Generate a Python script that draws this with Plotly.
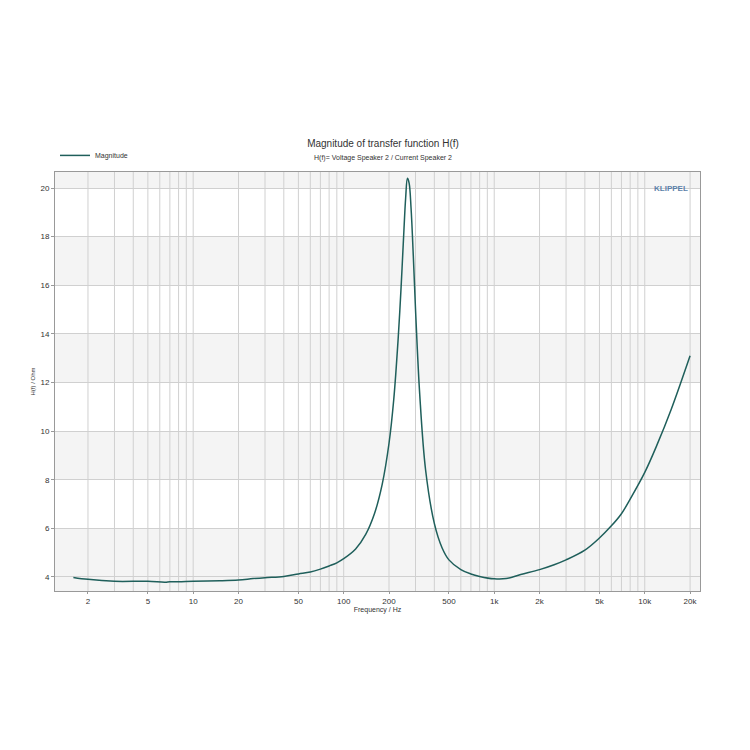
import plotly.graph_objects as go

freq = [1.6, 2, 3, 5, 6.5, 7, 8, 10, 15, 20, 25, 30, 40, 50, 60, 70, 80, 90, 100, 120, 140, 160, 180, 200, 215, 230, 240, 250, 258, 265, 272, 280, 290, 300, 320, 350, 400, 450, 500, 600, 700, 800, 1000, 1200, 1500, 2000, 2500, 3000, 4000, 5000, 6000, 7000, 8000, 10000, 12000, 15000, 20000]
mag = [3.98, 3.9, 3.82, 3.82, 3.78, 3.8, 3.8, 3.82, 3.84, 3.87, 3.93, 3.97, 4.02, 4.12, 4.2, 4.32, 4.45, 4.58, 4.75, 5.15, 5.75, 6.6, 7.8, 9.5, 11.3, 13.8, 15.8, 18.0, 19.6, 20.4, 20.2, 19.2, 17.2, 15.0, 11.5, 8.4, 6.2, 5.2, 4.7, 4.3, 4.12, 4.02, 3.92, 3.93, 4.1, 4.3, 4.5, 4.7, 5.1, 5.6, 6.1, 6.6, 7.2, 8.3, 9.4, 10.9, 13.1]
yticks = [4, 6, 8, 10, 12, 14, 16, 18, 20]
xtickvals = [2, 5, 10, 20, 50, 100, 200, 500, 1000, 2000, 5000, 10000, 20000]
xticktext = ["2", "5", "10", "20", "50", "100", "200", "500", "1k", "2k", "5k", "10k", "20k"]

minor = []
for d in [1, 10, 100, 1000, 10000]:
    for m in range(1, 10):
        v = d * m
        if 1.2 < v < 23000:
            minor.append(v)

fig = go.Figure()
shapes = []
for i, y0 in enumerate(range(4, 21, 2)):
    if i % 2 == 0:
        shapes.append(dict(type="rect", xref="paper", yref="y", x0=0, x1=1, y0=y0, y1=min(y0 + 2, 20.66),
                           fillcolor="#f4f4f4", line_width=0, layer="below"))
shapes.append(dict(type="rect", xref="paper", yref="y", x0=0, x1=1, y0=3.42, y1=4,
                   fillcolor="#f4f4f4", line_width=0, layer="below"))
for v in minor:
    shapes.append(dict(type="line", xref="x", yref="paper", x0=v, x1=v, y0=0, y1=1,
                       line=dict(color="#d0d0d0", width=1), layer="below"))

fig.add_trace(go.Scatter(x=freq, y=mag, mode="lines", name="Magnitude",
                         line=dict(color="#1f5f5b", width=1.5, shape="spline")))
fig.update_layout(
    width=750, height=750, paper_bgcolor="white", plot_bgcolor="white",
    margin=dict(l=47, r=58, t=164, b=167),
    font=dict(family="Liberation Sans, Arial", size=8, color="#333"),
    title=dict(text="Magnitude of transfer function H(f)<br><span style='font-size:7px'>H(f)= Voltage Speaker 2 / Current Speaker 2</span>",
               x=0.5, xanchor="center", y=0.815, font=dict(size=10)),
    showlegend=True,
    legend=dict(x=0, y=1.005, xanchor="left", yanchor="bottom", orientation="h", font=dict(size=7),
                bgcolor="rgba(0,0,0,0)"),
    shapes=shapes,
    xaxis=dict(type="log", range=[0.082, 4.367], tickvals=xtickvals, ticktext=xticktext,
               showgrid=False, zeroline=False, showline=True, linecolor="#999", mirror=True,
               title=dict(text="Frequency / Hz", font=dict(size=7), standoff=2), ticks="outside", ticklen=2,
               tickcolor="#999"),
    yaxis=dict(range=[3.42, 20.66], tickvals=yticks, showgrid=True, gridcolor="#d0d0d0",
               zeroline=False, showline=True, linecolor="#999", mirror=True,
               title=dict(text="H(f) / Ohm", font=dict(size=6), standoff=4), ticks="outside", ticklen=3,
               tickcolor="#999"),
    annotations=[dict(text="<b>KLIPPEL</b>", xref="paper", yref="paper", x=0.985, y=0.975,
                      xanchor="right", showarrow=False, font=dict(size=8, color="#5a7fa8"))],
)
fig.write_html("out.html")
